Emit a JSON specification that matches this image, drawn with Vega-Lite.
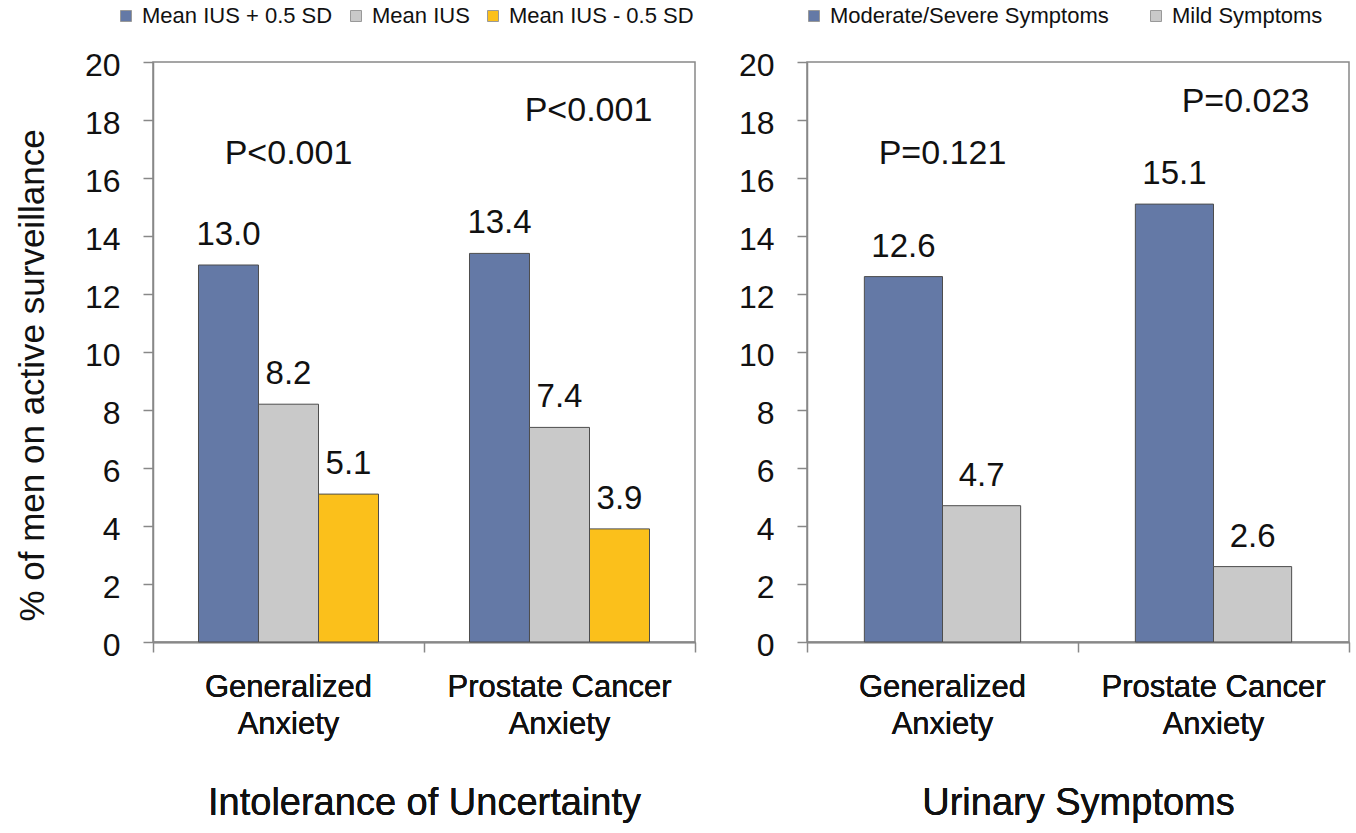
{
  "$schema": "https://vega.github.io/schema/vega-lite/v6.json",
  "padding": {"left": 14, "top": 4, "right": 5, "bottom": 5},
  "spacing": 40,
  "resolve": {"scale": {"color": "independent", "xOffset": "independent"}, "legend": {"color": "independent"}},
  "config": {
    "font": "Liberation Sans",
    "view": {"stroke": "#888888", "strokeWidth": 1.5},
    "axis": {
      "domainColor": "#888888", "domainWidth": 1.5,
      "tickColor": "#888888", "tickWidth": 1.5,
      "labelColor": "#111111", "titleColor": "#111111",
      "grid": false, "titleFontWeight": "normal"
    },
    "legend": {
      "orient": "none", "direction": "horizontal", "title": null,
      "symbolType": "square", "symbolSize": 121, "symbolStrokeColor": "#999999",
      "symbolStrokeWidth": 1, "labelFontSize": 22, "labelOffset": 5,
      "labelLimit": 400, "labelColor": "#111111"
    }
  },
  "datasets": {
    "iu": [
      {"anxiety": "Generalized Anxiety", "group": "Mean IUS + 0.5 SD", "pct": 13.0},
      {"anxiety": "Generalized Anxiety", "group": "Mean IUS", "pct": 8.2},
      {"anxiety": "Generalized Anxiety", "group": "Mean IUS - 0.5 SD", "pct": 5.1},
      {"anxiety": "Prostate Cancer Anxiety", "group": "Mean IUS + 0.5 SD", "pct": 13.4},
      {"anxiety": "Prostate Cancer Anxiety", "group": "Mean IUS", "pct": 7.4},
      {"anxiety": "Prostate Cancer Anxiety", "group": "Mean IUS - 0.5 SD", "pct": 3.9}
    ],
    "ur": [
      {"anxiety": "Generalized Anxiety", "group": "Moderate/Severe Symptoms", "pct": 12.6},
      {"anxiety": "Generalized Anxiety", "group": "Mild Symptoms", "pct": 4.7},
      {"anxiety": "Prostate Cancer Anxiety", "group": "Moderate/Severe Symptoms", "pct": 15.1},
      {"anxiety": "Prostate Cancer Anxiety", "group": "Mild Symptoms", "pct": 2.6}
    ],
    "pl": [
      {"anxiety": "Generalized Anxiety", "label": "P<0.001", "pos": 16.48, "shift": 0},
      {"anxiety": "Prostate Cancer Anxiety", "label": "P<0.001", "pos": 17.98, "shift": 1}
    ],
    "pr": [
      {"anxiety": "Generalized Anxiety", "label": "P=0.121", "pos": 16.48, "shift": 0},
      {"anxiety": "Prostate Cancer Anxiety", "label": "P=0.023", "pos": 18.28, "shift": 1}
    ]
  },
  "hconcat": [
    {
      "width": 542, "height": 580,
      "resolve": {"axis": {"x": "independent"}},
      "encoding": {
        "x": {
          "field": "anxiety", "type": "nominal",
          "sort": ["Generalized Anxiety", "Prostate Cancer Anxiety"],
          "scale": {"type": "band", "paddingInner": 0, "paddingOuter": 0},
          "axis": {
            "orient": "bottom",
            "title": "Intolerance of Uncertainty", "titleFontSize": 38, "titlePadding": 45,
            "labelAngle": 0, "labelFontSize": 31, "labelLineHeight": 37, "labelPadding": 30,
            "ticks": false, "tickSize": 0, "labelLimit": 400,
            "labelExpr": "datum.label == 'Generalized Anxiety' ? ['Generalized', 'Anxiety'] : ['Prostate Cancer', 'Anxiety']"
          }
        }
      },
      "layer": [
        {
          "data": {"name": "iu"},
          "mark": {"type": "bar", "stroke": "#4d4d4d", "strokeWidth": 1},
          "encoding": {
            "xOffset": {"field": "group", "type": "nominal", "sort": ["Mean IUS + 0.5 SD", "Mean IUS", "Mean IUS - 0.5 SD"], "scale": {"type": "band", "paddingInner": 0, "paddingOuter": 0.758}},
            "y": {
              "field": "pct", "type": "quantitative", "scale": {"domain": [0, 20], "nice": false},
              "axis": {"values": [0, 2, 4, 6, 8, 10, 12, 14, 16, 18, 20], "title": "% of men on active surveillance",
                "titleFontSize": 35, "titleX": -121, "titleY": 313, "titleBaseline": "middle", "titleAngle": -90,
                "labelFontSize": 32, "labelPadding": 23, "tickSize": 10, "labelOffset": 3}
            },
            "color": {
              "field": "group", "type": "nominal",
              "scale": {"domain": ["Mean IUS + 0.5 SD", "Mean IUS", "Mean IUS - 0.5 SD"], "range": ["#6479A6", "#C9C9C9", "#FBC01B"]},
              "legend": {"legendX": -38, "legendY": -57, "columnPadding": 12}
            }
          }
        },
        {
          "data": {"name": "iu"},
          "mark": {"type": "text", "baseline": "alphabetic", "dy": -20, "fontSize": 33, "color": "#111111"},
          "encoding": {
            "xOffset": {"field": "group", "type": "nominal", "sort": ["Mean IUS + 0.5 SD", "Mean IUS", "Mean IUS - 0.5 SD"], "scale": {"type": "band", "paddingInner": 0, "paddingOuter": 0.758}},
            "y": {"field": "pct", "type": "quantitative"},
            "text": {"field": "pct", "type": "quantitative", "format": ".1f"}
          }
        },
        {
          "data": {"name": "pl"},
          "transform": [{"filter": "datum.shift == 0"}],
          "mark": {"type": "text", "baseline": "alphabetic", "fontSize": 34, "color": "#111111"},
          "encoding": {
            "x": {
              "field": "anxiety", "type": "nominal",
              "sort": ["Generalized Anxiety", "Prostate Cancer Anxiety"],
              "scale": {"type": "band", "paddingInner": 0, "paddingOuter": 0},
              "axis": {"orient": "bottom", "labels": false, "domain": false, "title": null, "ticks": true, "tickBand": "extent", "tickSize": 10}
            },
            "y": {"field": "pos", "type": "quantitative"},
            "text": {"field": "label"}
          }
        },
        {
          "data": {"name": "pl"},
          "transform": [{"filter": "datum.shift == 1"}],
          "mark": {"type": "text", "baseline": "alphabetic", "fontSize": 34, "dx": 29, "color": "#111111"},
          "encoding": {"y": {"field": "pos", "type": "quantitative"}, "text": {"field": "label"}}
        }
      ]
    },
    {
      "width": 542, "height": 580,
      "resolve": {"axis": {"x": "independent"}},
      "encoding": {
        "x": {
          "field": "anxiety", "type": "nominal",
          "sort": ["Generalized Anxiety", "Prostate Cancer Anxiety"],
          "scale": {"type": "band", "paddingInner": 0, "paddingOuter": 0},
          "axis": {
            "orient": "bottom",
            "title": "Urinary Symptoms", "titleFontSize": 38, "titlePadding": 45,
            "labelAngle": 0, "labelFontSize": 31, "labelLineHeight": 37, "labelPadding": 30,
            "ticks": false, "tickSize": 0, "labelLimit": 400,
            "labelExpr": "datum.label == 'Generalized Anxiety' ? ['Generalized', 'Anxiety'] : ['Prostate Cancer', 'Anxiety']"
          }
        }
      },
      "layer": [
        {
          "data": {"name": "ur"},
          "mark": {"type": "bar", "stroke": "#4d4d4d", "strokeWidth": 1},
          "encoding": {
            "xOffset": {"field": "group", "type": "nominal", "sort": ["Moderate/Severe Symptoms", "Mild Symptoms"], "scale": {"type": "band", "paddingInner": 0, "paddingOuter": 0.734}},
            "y": {
              "field": "pct", "type": "quantitative", "scale": {"domain": [0, 20], "nice": false},
              "axis": {"values": [0, 2, 4, 6, 8, 10, 12, 14, 16, 18, 20], "title": null,
                "labelFontSize": 32, "labelPadding": 23, "tickSize": 10, "labelOffset": 3}
            },
            "color": {
              "field": "group", "type": "nominal",
              "scale": {"domain": ["Moderate/Severe Symptoms", "Mild Symptoms"], "range": ["#6479A6", "#C9C9C9"]},
              "legend": {"legendX": -4, "legendY": -57, "columnPadding": 36}
            }
          }
        },
        {
          "data": {"name": "ur"},
          "mark": {"type": "text", "baseline": "alphabetic", "dy": -20, "fontSize": 33, "color": "#111111"},
          "encoding": {
            "xOffset": {"field": "group", "type": "nominal", "sort": ["Moderate/Severe Symptoms", "Mild Symptoms"], "scale": {"type": "band", "paddingInner": 0, "paddingOuter": 0.734}},
            "y": {"field": "pct", "type": "quantitative"},
            "text": {"field": "pct", "type": "quantitative", "format": ".1f"}
          }
        },
        {
          "data": {"name": "pr"},
          "transform": [{"filter": "datum.shift == 0"}],
          "mark": {"type": "text", "baseline": "alphabetic", "fontSize": 34, "color": "#111111"},
          "encoding": {
            "x": {
              "field": "anxiety", "type": "nominal",
              "sort": ["Generalized Anxiety", "Prostate Cancer Anxiety"],
              "scale": {"type": "band", "paddingInner": 0, "paddingOuter": 0},
              "axis": {"orient": "bottom", "labels": false, "domain": false, "title": null, "ticks": true, "tickBand": "extent", "tickSize": 10}
            },
            "y": {"field": "pos", "type": "quantitative"},
            "text": {"field": "label"}
          }
        },
        {
          "data": {"name": "pr"},
          "transform": [{"filter": "datum.shift == 1"}],
          "mark": {"type": "text", "baseline": "alphabetic", "fontSize": 34, "dx": 32, "color": "#111111"},
          "encoding": {"y": {"field": "pos", "type": "quantitative"}, "text": {"field": "label"}}
        }
      ]
    }
  ]
}
